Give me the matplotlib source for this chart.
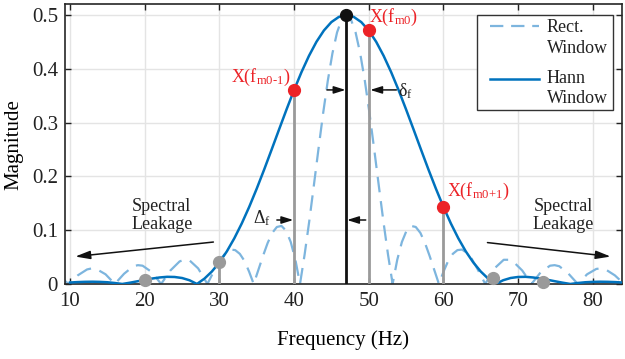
import matplotlib
matplotlib.use("Agg")
import matplotlib.pyplot as plt
from matplotlib.patches import Rectangle

# Hann-window spectrum (Hz, magnitude)
hann_freq = [10, 11, 12, 13, 14, 15, 16, 17, 18, 19, 20, 21, 22, 23, 24, 25, 26, 27, 28, 29,
             30, 31, 32, 33, 34, 35, 36, 37, 38, 39, 40, 41, 42, 43, 44, 45, 46, 47, 48, 49,
             50, 51, 52, 53, 54, 55, 56, 57, 58, 59, 60, 61, 62, 63, 64, 65, 66, 67, 68, 69,
             70, 71, 72, 73, 74, 75, 76, 77, 78, 79, 80, 81, 82, 83, 84, 85]
hann_mag = [0.0027, 0.0035, 0.0040, 0.0042, 0.0039, 0.0032, 0.0018, 0.0, 0.0023, 0.0049,
            0.0076, 0.0101, 0.0121, 0.0133, 0.0130, 0.0111, 0.0069, 0.0, 0.0099, 0.0232,
            0.0401, 0.0606, 0.0849, 0.1126, 0.1435, 0.1772, 0.2129, 0.2500, 0.2876, 0.3248,
            0.3607, 0.3942, 0.4244, 0.4505, 0.4716, 0.4872, 0.4968, 0.5000, 0.4968, 0.4872,
            0.4716, 0.4505, 0.4244, 0.3942, 0.3607, 0.3248, 0.2876, 0.2500, 0.2129, 0.1772,
            0.1435, 0.1126, 0.0849, 0.0606, 0.0401, 0.0232, 0.0099, 0.0, 0.0069, 0.0111,
            0.0130, 0.0133, 0.0121, 0.0101, 0.0076, 0.0049, 0.0023, 0.0, 0.0018, 0.0032,
            0.0039, 0.0042, 0.0040, 0.0035, 0.0027, 0.0018]

# Rectangular-window spectrum (Hz, magnitude)
rect_freq = [8.56, 9.80, 11.04, 12.28, 12.90, 13.52, 14.76, 16.00, 17.24, 18.48, 19.10, 19.72,
             20.96, 22.20, 23.44, 24.68, 25.30, 25.92, 27.16, 28.40, 29.02, 29.64, 30.26, 30.88,
             31.50, 32.12, 32.74, 33.36, 33.98, 34.60, 35.22, 35.84, 36.46, 37.08, 37.70, 38.32,
             38.94, 39.56, 40.18, 40.80, 41.42, 42.04, 42.66, 43.28, 43.90, 44.52, 45.14, 45.76,
             46.38, 47.00, 47.62, 48.24, 48.86, 49.48, 50.10, 50.72, 51.34, 51.96, 52.58, 53.20,
             53.82, 54.44, 55.06, 55.68, 56.30, 56.92, 57.54, 58.16, 58.78, 59.40, 60.02, 60.64,
             61.26, 61.88, 62.50, 63.12, 63.74, 64.36, 64.98, 65.60, 66.84, 68.08, 68.70, 69.32,
             70.56, 71.80, 73.04, 74.28, 74.90, 75.52, 76.76, 78.00, 79.24, 80.48, 81.10, 81.72,
             82.96, 84.20, 85.44]
rect_mag = [0.015, 0.0, 0.016, 0.027, 0.029, 0.028, 0.018, 0.0, 0.019, 0.033, 0.035, 0.034,
            0.022, 0.0, 0.025, 0.042, 0.045, 0.045, 0.029, 0.0, 0.017, 0.033, 0.048, 0.058,
            0.064, 0.063, 0.056, 0.043, 0.023, 0.0, 0.026, 0.052, 0.076, 0.095, 0.106, 0.108,
            0.099, 0.078, 0.045, 0.0, 0.055, 0.117, 0.184, 0.252, 0.318, 0.378, 0.429, 0.468,
            0.492, 0.500, 0.492, 0.468, 0.429, 0.378, 0.318, 0.252, 0.184, 0.117, 0.055, 0.0,
            0.045, 0.078, 0.099, 0.108, 0.106, 0.095, 0.076, 0.052, 0.026, 0.0, 0.023, 0.043,
            0.056, 0.063, 0.064, 0.058, 0.048, 0.033, 0.017, 0.0, 0.029, 0.045, 0.045, 0.042,
            0.025, 0.0, 0.022, 0.034, 0.035, 0.033, 0.019, 0.0, 0.018, 0.028, 0.029, 0.027,
            0.016, 0.0, 0.015]

# DFT bins
peak_freq = [47]
peak_mag = [0.5]
red_freq = [40, 50, 60]
red_mag = [0.3607, 0.4716, 0.1435]
gray_freq = [20, 30, 66.7, 73.3]
gray_mag = [0.007, 0.040, 0.011, 0.003]

x_ticks = [10, 20, 30, 40, 50, 60, 70, 80]
y_ticks = [0, 0.1, 0.2, 0.3, 0.4, 0.5]
y_tick_labels = ["0", "0.1", "0.2", "0.3", "0.4", "0.5"]

HANN_BLUE = "#0072bd"
RECT_BLUE = "#7db5de"
RED = "#ec2227"
GRAY = "#9a9a9a"

plt.rcParams.update(
    {
        "font.family": ["Liberation Serif", "DejaVu Serif"],
        "mathtext.fontset": "custom",
        "mathtext.rm": "Liberation Serif",
        "mathtext.it": "Liberation Serif:italic",
    }
)

fig = plt.figure(figsize=(6.25, 3.59), dpi=100)
ax = fig.add_axes([0.104, 0.209, 0.891, 0.7786])

ax.plot(rect_freq, rect_mag, color=RECT_BLUE, lw=1.6, dashes=(7, 4), zorder=2)
ax.plot(hann_freq, hann_mag, color=HANN_BLUE, lw=1.8, zorder=3)

ax.vlines(gray_freq + red_freq, 0, gray_mag + red_mag, color=GRAY, lw=2.0, zorder=4)
ax.vlines(peak_freq, 0, peak_mag, color="#111111", lw=2.0, zorder=4)
ax.plot(gray_freq, gray_mag, "o", color=GRAY, ms=8.5, zorder=5, clip_on=False)
ax.plot(red_freq, red_mag, "o", color=RED, ms=8.5, zorder=5)
ax.plot(peak_freq, peak_mag, "o", color="#111111", ms=8.5, zorder=5)

ax.set_xlim(9.33, 83.9)
ax.set_ylim(0, 0.52)
ax.set_xticks(x_ticks)
ax.set_yticks(y_ticks)
ax.set_yticklabels(y_tick_labels)
ax.grid(True, color="#e4e4e4", lw=1.0, zorder=0)
ax.set_axisbelow(True)
ax.tick_params(direction="in", top=True, right=True, length=4, width=1.0,
               labelsize=15, colors="#222222")
ax.tick_params(axis="x", pad=6)
ax.tick_params(axis="y", pad=5)
for spine in ax.spines.values():
    spine.set_linewidth(1.2)
    spine.set_color("#262626")

ax.set_xlabel("Frequency (Hz)", fontsize=15, labelpad=14)
ax.set_ylabel("Magnitude", fontsize=15, labelpad=6)

# labels for the bins
txt = dict(fontsize=13, color=RED, va="baseline")
ax.text(39.5, 0.376, r"X(f$_{\mathrm{m0\text{-}1}}$)", ha="right", **txt)
ax.text(50.1, 0.487, r"X(f$_{\mathrm{m0}}$)", ha="left", **txt)
ax.text(60.5, 0.164, r"X(f$_{\mathrm{m0{+}1}}$)", ha="left", **txt)

# delta arrows
arrow = dict(arrowstyle="-|>,head_length=0.7,head_width=0.22", color="#111111",
             lw=1.1, shrinkA=0, shrinkB=0)
ax.annotate("", xy=(46.9, 0.361), xytext=(44.4, 0.361), arrowprops=arrow)
ax.annotate("", xy=(50.2, 0.361), xytext=(53.7, 0.361), arrowprops=arrow)
ax.annotate("", xy=(39.9, 0.119), xytext=(37.7, 0.119), arrowprops=arrow)
ax.annotate("", xy=(47.1, 0.119), xytext=(49.6, 0.119), arrowprops=arrow)
ax.text(53.9, 0.350, r"δ$_{\mathrm{f}}$", fontsize=13, color="#222222", va="baseline")
ax.text(34.5, 0.113, r"Δ$_{\mathrm{f}}$", fontsize=13, color="#222222", va="baseline")

# spectral leakage
leak = dict(arrowstyle="-|>,head_length=0.9,head_width=0.25", color="#111111",
            lw=1.1, shrinkA=0, shrinkB=0)
ax.annotate("", xy=(10.7, 0.051), xytext=(29.2, 0.078), arrowprops=leak)
ax.annotate("", xy=(82.4, 0.051), xytext=(65.9, 0.077), arrowprops=leak)
ax.text(22.3, 0.128, "Spectral\nLeakage", fontsize=13, ha="center", va="center",
        linespacing=1.1, color="#222222")
ax.text(76.0, 0.128, "Spectral\nLeakage", fontsize=13, ha="center", va="center",
        linespacing=1.1, color="#222222")

# legend box
ax.add_patch(Rectangle((0.739, 0.6225), 0.245, 0.3395, transform=ax.transAxes,
                       facecolor="white", edgecolor="#333333", lw=1.0, zorder=10))
ax.plot([0.763, 0.851], [0.923, 0.923], transform=ax.transAxes, color=RECT_BLUE,
        lw=1.6, dashes=(6, 3.5), zorder=11)
ax.plot([0.763, 0.851], [0.733, 0.733], transform=ax.transAxes, color=HANN_BLUE,
        lw=1.8, zorder=11)
leg_txt = dict(transform=ax.transAxes, fontsize=13, va="baseline", ha="left",
               color="#222222", zorder=12)
ax.text(0.865, 0.9016, "Rect.", **leg_txt)
ax.text(0.865, 0.8275, "Window", **leg_txt)
ax.text(0.865, 0.718, "Hann", **leg_txt)
ax.text(0.865, 0.6465, "Window", **leg_txt)

fig.savefig("out.png", dpi=100)
